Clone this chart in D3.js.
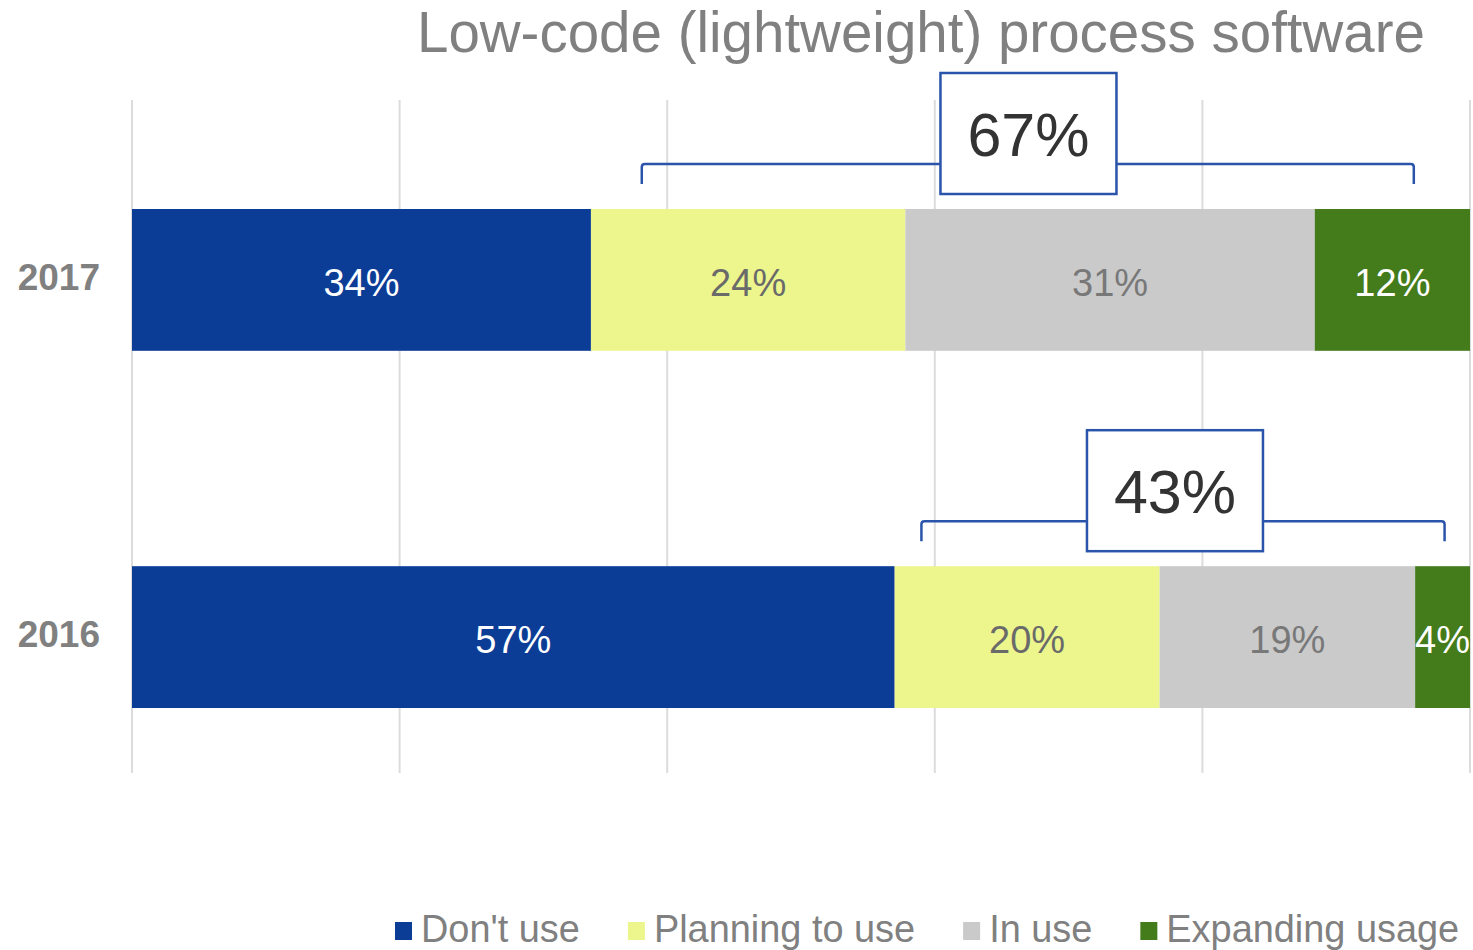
<!DOCTYPE html>
<html>
<head>
<meta charset="utf-8">
<script src="https://cdn.jsdelivr.net/npm/d3@7/dist/d3.min.js"></script>
<style>
  html, body { margin: 0; padding: 0; background: #fff; }
  svg { display: block; font-family: "Liberation Sans", Arial, sans-serif; }
</style>
</head>
<body>
<svg id="chart" width="1473" height="950"></svg>
<script>
// ---- data ----
const years = ["2017", "2016"];
const seriesNames = ["Don't use", "Planning to use", "In use", "Expanding usage"];
const dontUse = [34.3, 57.0];
const planning = [23.5, 19.8];
const inUse = [30.6, 19.1];
const expanding = [11.6, 4.1];
const totalsShown = [67, 43];
// bracket annotations in axis units (percent)
const bracketStart = [38.1, 59.0];
const bracketEnd = [95.8, 98.1];
const boxCenter = [67.0, 77.95];
const xTicks = [0, 20, 40, 60, 80, 100];
const title = "Low-code (lightweight) process software";

// ---- styles ----
const colors = ["#0b3c96", "#ecf68c", "#cacaca", "#447b1b"];
const labelColors = ["#ffffff", "#6a6a6a", "#787878", "#ffffff"];
const accent = "#2a54a9";

const svg = d3.select("#chart");
const x = d3.scaleLinear().domain([0, 100]).range([132, 1470]);
const y = d3.scaleBand().domain(years).range([209, 708]).paddingInner(0.603).paddingOuter(0);
const gridTop = 100, gridBottom = 773;

// gridlines
svg.append("g").selectAll("line").data(xTicks).join("line")
  .attr("x1", d => x(d)).attr("x2", d => x(d))
  .attr("y1", gridTop).attr("y2", gridBottom)
  .attr("stroke", "#dcdcdc").attr("stroke-width", 2);

// stacked data
const seriesArrays = [dontUse, planning, inUse, expanding];
const rows = years.map((yr, i) => {
  const o = { year: yr };
  seriesNames.forEach((s, j) => o[s] = seriesArrays[j][i]);
  return o;
});
const stacked = d3.stack().keys(seriesNames)(rows);

const layers = svg.append("g").selectAll("g").data(stacked).join("g")
  .attr("fill", (d, i) => colors[i]);
layers.selectAll("rect").data(d => d).join("rect")
  .attr("x", d => x(d[0]))
  .attr("width", d => x(d[1]) - x(d[0]))
  .attr("y", d => y(d.data.year))
  .attr("height", y.bandwidth());

// bar labels
const labelG = svg.append("g");
stacked.forEach((layer, i) => {
  labelG.selectAll(null).data(layer).join("text")
    .attr("x", d => (x(d[0]) + x(d[1])) / 2)
    .attr("y", d => y(d.data.year) + y.bandwidth() / 2 + 16)
    .attr("text-anchor", "middle")
    .attr("font-size", 38)
    .attr("fill", labelColors[i])
    .text(d => Math.round(d[1] - d[0]) + "%");
});

// year labels
svg.append("g").selectAll("text").data(years).join("text")
  .attr("x", 100).attr("text-anchor", "end")
  .attr("y", d => y(d) + y.bandwidth() / 2 + 10)
  .attr("font-size", 37).attr("font-weight", "bold").attr("fill", "#808080")
  .text(d => d);

// brackets + boxes
const ann = svg.append("g");
years.forEach((yr, i) => {
  const top = y(yr);
  const by = top - 45;
  const tick = 20;
  const x0 = x(bracketStart[i]), x1 = x(bracketEnd[i]);
  ann.append("path")
    .attr("d", `M${x0},${by + tick} L${x0},${by + 3} Q${x0},${by} ${x0 + 3},${by} L${x1 - 3},${by} Q${x1},${by} ${x1},${by + 3} L${x1},${by + tick}`)
    .attr("fill", "none").attr("stroke", accent).attr("stroke-width", 2.5);
  const bw = 176, bh = 121;
  const cx = x(boxCenter[i]);
  ann.append("rect")
    .attr("x", cx - bw / 2).attr("y", top - 15 - bh)
    .attr("width", bw).attr("height", bh)
    .attr("fill", "#fff").attr("stroke", accent).attr("stroke-width", 2.5);
  ann.append("text")
    .attr("x", cx).attr("y", top - 15 - bh / 2 + 22)
    .attr("text-anchor", "middle").attr("font-size", 61).attr("fill", "#333333")
    .text(totalsShown[i] + "%");
});

// title
svg.append("text")
  .attr("x", 921).attr("y", 52).attr("text-anchor", "middle")
  .attr("font-size", 56.5).attr("fill", "#808080")
  .text(title);

// legend
const leg = svg.append("g");
let lx = 395;
seriesNames.forEach((s, i) => {
  leg.append("rect").attr("x", lx).attr("y", 922).attr("width", 17).attr("height", 18).attr("fill", colors[i]);
  const t = leg.append("text").attr("x", lx + 26).attr("y", 942)
    .attr("font-size", 37.9).attr("fill", "#808080").text(s);
  const w = t.node().getComputedTextLength();
  lx = lx + 26 + w + 48;
});
</script>
</body>
</html>
